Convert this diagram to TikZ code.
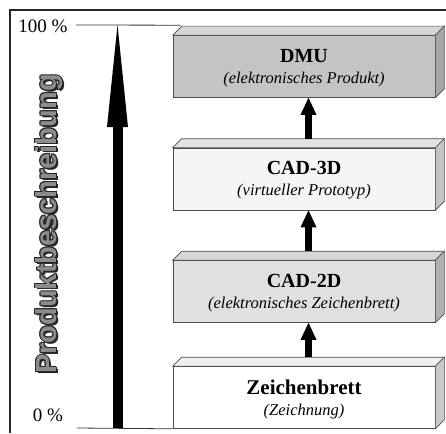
\documentclass[tikz,border=0pt]{standalone}
\usepackage{fontspec}
\setmainfont{Liberation Serif}
\setsansfont{Liberation Sans}
\usetikzlibrary{arrows.meta,calc}
\definecolor{dmuF}{gray}{0.77}
\definecolor{dmuT}{gray}{0.84}
\definecolor{dmuS}{gray}{0.65}
\definecolor{cthF}{gray}{0.96}
\definecolor{cthT}{gray}{0.89}
\definecolor{cthS}{gray}{0.77}
\definecolor{ctwF}{gray}{0.88}
\definecolor{ctwT}{gray}{0.84}
\definecolor{ctwS}{gray}{0.69}
\definecolor{zF}{gray}{1.0}
\definecolor{zT}{gray}{0.94}
\definecolor{zS}{gray}{0.79}
\newcommand\myfaces[3]{%
  \draw[edge, fill=#2] (#1.north west) -- ++(9,-9) -- ($(#1.north east)+(9,-9)$) -- (#1.north east) -- cycle;
  \draw[edge, fill=#3] (#1.north east) -- ++(9,-9) -- ($(#1.south east)+(9,-9)$) -- (#1.south east) -- cycle;}
\newcommand\mytitle[3][20]{{\bfseries\fontsize{#1}{21}\selectfont #2}\\{\itshape #3}}
\begin{document}
\begin{tikzpicture}[x=1pt,y=-1pt,
  edge/.style={draw=black!70, line width=0.6pt},
  face/.style={edge, minimum width=262pt, minimum height=62pt, inner sep=0pt},
  ttl/.style={align=center, inner sep=0pt, text=black, font=\fontsize{16.5}{21}\selectfont},
  smallarrow/.style={line width=7pt, -{Triangle[width=16pt,length=17pt,line width=0pt]}},
  bigarrow/.style={line width=10pt, -{Triangle[width=21pt,length=102pt,line width=0pt]}},
  axisline/.style={draw=black!80, line width=0.8pt},
  pct/.style={font=\fontsize{19}{20}\selectfont, inner sep=0pt},
  vt/.style={rotate=90, inner sep=0pt, font=\sffamily\bfseries\fontsize{29}{30}\selectfont}]
\useasboundingbox (0,0) rectangle (446,433);
% frame
\draw[black!85, line width=1.2pt] (10,433) -- (10,10) -- (446,10);
% boxes (front faces)
\node[face, fill=dmuF] (dmu) at (304,66.5) {};
\myfaces{dmu}{dmuT}{dmuS}
\node[ttl] (dmut) at ($(dmu.center)+(0,1.5)$) {\mytitle{DMU}{(elektronisches Produkt)}};
\node[face, fill=cthF] (cad3) at (304,179) {};
\myfaces{cad3}{cthT}{cthS}
\node[ttl] (cad3t) at ($(cad3.center)+(0,1.5)$) {\mytitle{CAD-3D}{(virtueller Prototyp)}};
\node[face, fill=ctwF] (cad2) at (304,291.5) {};
\myfaces{cad2}{ctwT}{ctwS}
\node[ttl] (cad2t) at ($(cad2.center)+(0,1.5)$) {\mytitle{CAD-2D}{(elektronisches Zeichenbrett)}};
\node[face, fill=zF] (zb) at (304,397.5) {};
\myfaces{zb}{zT}{zS}
\node[ttl] (zbt) at ($(zb.center)+(0,1.5)$) {\mytitle[21]{Zeichenbrett}{(Zeichnung)}};
% small arrows
\draw[smallarrow] ($(cad3.north)+(4.5,-9)$) -- ($(dmu.south)+(4.5,0)$);
\draw[smallarrow] ($(cad2.north)+(4.5,-9)$) -- ($(cad3.south)+(4.5,0)$);
\draw[smallarrow] ($(zb.north)+(4.5,-9)$) -- ($(cad2.south)+(4.5,0)$);
% axis lines and labels
\node[pct] (hundred) at (43,26) {100 \%};
\node[pct] (zero) at (48,415) {0 \%};
\coordinate (topL) at (76,25);
\coordinate (botL) at (77,428);
\draw[axisline] (topL) -- ($(dmu.north west)+(8,-10)$);
\draw[axisline] (botL) -- (zb.south west);
\coordinate (arrbase) at (117.5,428);
\coordinate (arrtip) at (117.5,25);
\draw[bigarrow] (arrbase) -- (arrtip);
% vertical label with outline effect
\foreach \dx/\dy [count=\k] in {1.8/1.8, 0.9/0, -0.9/0, 0/0.9, 0/-0.9, 0.7/0.7, -0.7/-0.7, 0.7/-0.7, -0.7/0.7}
  \node[vt, text=black!85] (pbo\k) at (49+\dx,224+\dy) {Produktbeschreibung};
\node[vt, text=black!45] (pb) at (49,224) {Produktbeschreibung};
\end{tikzpicture}
\end{document}
